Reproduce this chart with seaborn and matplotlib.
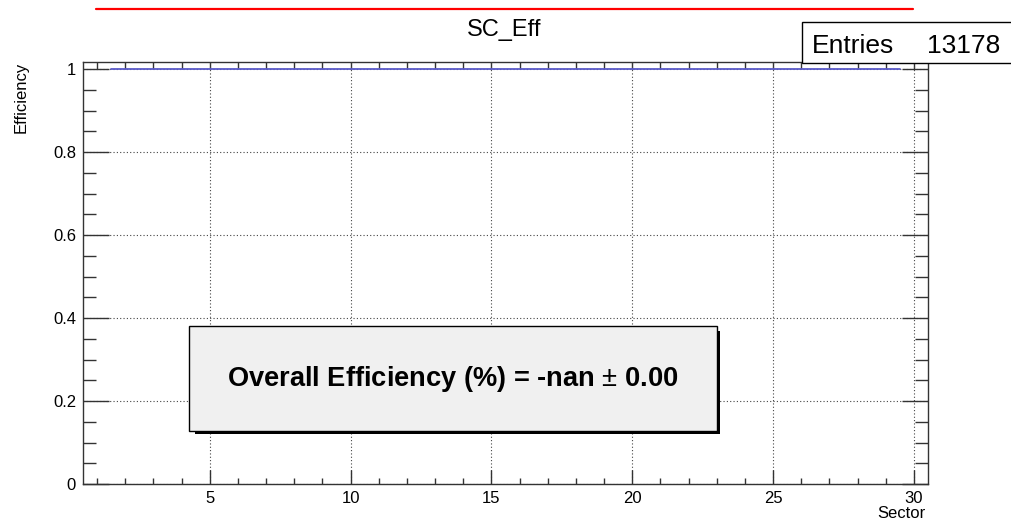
import numpy as np
import pandas as pd
import matplotlib
matplotlib.use("Agg")
import matplotlib.pyplot as plt
import seaborn as sns
from matplotlib.patches import Rectangle
from matplotlib.lines import Line2D
from matplotlib.ticker import MultipleLocator

# ---- data ----
sectors = [1, 2, 3, 4, 5, 6, 7, 8, 9, 10, 11, 12, 13, 14, 15,
           16, 17, 18, 19, 20, 21, 22, 23, 24, 25, 26, 27, 28, 29, 30]
efficiency = [np.nan, 1.0, 1.0, 1.0, 1.0, 1.0, 1.0, 1.0, 1.0, 1.0,
              1.0, 1.0, 1.0, 1.0, 1.0, 1.0, 1.0, 1.0, 1.0, 1.0,
              1.0, 1.0, 1.0, 1.0, 1.0, 1.0, 1.0, 1.0, 1.0, np.nan]
x_ticks = [5, 10, 15, 20, 25, 30]
y_ticks = [0, 0.2, 0.4, 0.6, 0.8, 1]
y_tick_labels = ["0", "0.2", "0.4", "0.6", "0.8", "1"]
title = "SC_Eff"
x_title = "Sector"
y_title = "Efficiency"
entries = 13178
overall_text = "Overall Efficiency (%) = -nan $\\pm$ 0.00"

sns.set_style("white")
plt.rcParams["font.family"] = ["Liberation Sans", "DejaVu Sans"]
plt.rcParams["mathtext.fontset"] = "custom"
plt.rcParams["mathtext.rm"] = "Liberation Sans"
for k in ["text.color", "axes.labelcolor", "xtick.color", "ytick.color"]:
    plt.rcParams[k] = "black"

W, H = 1011, 523
fig = plt.figure(figsize=(W / 100, H / 100), dpi=100)
fig.patch.set_facecolor("white")

def fx(px):
    return px / W

def fy(py):
    return 1 - py / H

L, R, T, B = 83, 928, 62, 484
ax = fig.add_axes([fx(L), fy(B), fx(R - L), (B - T) / H])
ax.set_facecolor("white")

# histogram outline from valid bins
df = pd.DataFrame({"sector": sectors, "eff": efficiency}).dropna()
edges = list(df["sector"] - 0.5) + [df["sector"].iloc[-1] + 0.5]
vals = list(df["eff"]) + [df["eff"].iloc[-1]]
sns.lineplot(x=edges, y=vals, drawstyle="steps-post", color="#5a5ac8",
             lw=1.3, estimator=None, sort=False, ax=ax, zorder=3)

ax.set_xlim(0.5, 30.5)
ax.set_ylim(0, 1.017)

ax.set_xticks(x_ticks)
ax.set_xticklabels([str(t) for t in x_ticks])
ax.xaxis.set_minor_locator(MultipleLocator(1))
ax.set_yticks(y_ticks)
ax.set_yticklabels(y_tick_labels)
ax.yaxis.set_minor_locator(MultipleLocator(0.05))

ax.grid(True, which="major", color="#444444", linestyle=(0, (1, 2)), lw=0.8)
for s in ax.spines.values():
    s.set_color("#333333")
    s.set_linewidth(1.0)

ax.tick_params(axis="x", which="major", direction="in", length=10, width=1,
               color="#333333", labelsize=12, pad=5, bottom=True, top=False)
ax.tick_params(axis="x", which="minor", direction="in", length=4.5, width=1,
               color="#333333", bottom=True, top=False)
ax.tick_params(axis="y", which="major", direction="in", length=19, width=1,
               color="#333333", labelsize=12, pad=5, left=True, right=True)
ax.tick_params(axis="y", which="minor", direction="in", length=9.5, width=1,
               color="#333333", left=True, right=True)

sec = ax.secondary_xaxis("top")
sec.set_xticks(x_ticks)
sec.xaxis.set_minor_locator(MultipleLocator(1))
sec.tick_params(which="both", direction="in", length=5, width=1,
                color="#333333", labeltop=False)
sec.spines["top"].set_visible(False)

ax.set_xlabel("")
ax.set_ylabel("")

# axis titles
fig.text(fx(R - 2), fy(514), x_title, ha="right", va="center", fontsize=12)
fig.text(fx(21), fy(T), y_title, ha="center", va="top", rotation=90, fontsize=12)

# title and red line
fig.add_artist(Line2D([fx(96), fx(913)], [fy(9), fy(9)], color="red", lw=1.6))
fig.text(fx(504), fy(30), title, ha="center", va="center", fontsize=17)

# stats box
fig.add_artist(Rectangle((fx(802), fy(63)), fx(230), (63 - 22) / H,
                         fc="white", ec="black", lw=1, zorder=5))
fig.text(fx(812), fy(53), "Entries", ha="left", va="baseline", fontsize=19, zorder=6)
fig.text(fx(1000), fy(53), f"{entries}", ha="right", va="baseline", fontsize=19, zorder=6)

# overall efficiency box with shadow
fig.add_artist(Rectangle((fx(195), fy(434)), fx(720 - 195), (434 - 331) / H,
                         fc="black", ec="none", zorder=5))
fig.add_artist(Rectangle((fx(189), fy(431)), fx(717 - 189), (431 - 326) / H,
                         fc="#f0f0f0", ec="black", lw=1, zorder=6))
fig.text(fx(453), fy(379), overall_text, ha="center", va="center",
         fontsize=19.6, fontweight="bold", zorder=7)

fig.savefig("out.png", dpi=100)
